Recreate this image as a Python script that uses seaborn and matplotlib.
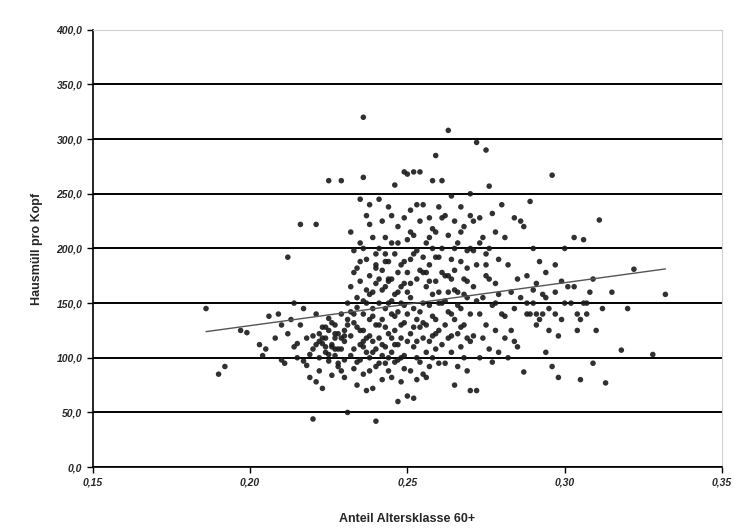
import matplotlib
matplotlib.use("Agg")
import matplotlib.pyplot as plt
import matplotlib.ticker as mticker
import seaborn as sns
import pandas as pd

# Anteil Altersklasse 60+ (x) und Hausmüll pro Kopf (y)
anteil = [
    0.186, 0.190, 0.192, 0.197, 0.199, 0.203, 0.204, 0.205, 0.206, 0.208,
    0.209, 0.210, 0.210, 0.211, 0.212, 0.212, 0.213, 0.214, 0.214, 0.215,
    0.215, 0.216, 0.216, 0.217, 0.217, 0.218, 0.218, 0.219, 0.219, 0.220,
    0.220, 0.220, 0.221, 0.221, 0.221, 0.222, 0.222, 0.222, 0.223, 0.223,
    0.223, 0.224, 0.224, 0.224, 0.225, 0.225, 0.225, 0.225, 0.226, 0.226,
    0.226, 0.227, 0.227, 0.227, 0.227, 0.228, 0.228, 0.228, 0.229, 0.229,
    0.229, 0.229, 0.230, 0.230, 0.230, 0.230, 0.231, 0.231, 0.231, 0.231,
    0.222, 0.224, 0.226, 0.228, 0.230, 0.221, 0.223, 0.225, 0.227, 0.229,
    0.232, 0.232, 0.232, 0.233, 0.233, 0.233, 0.233, 0.234, 0.234, 0.234,
    0.234, 0.235, 0.235, 0.235, 0.235, 0.235, 0.236, 0.236, 0.236, 0.236,
    0.236, 0.237, 0.237, 0.237, 0.237, 0.237, 0.238, 0.238, 0.238, 0.238,
    0.238, 0.239, 0.239, 0.239, 0.239, 0.239, 0.240, 0.240, 0.240, 0.240,
    0.240, 0.232, 0.233, 0.234, 0.235, 0.236, 0.237, 0.238, 0.239, 0.240,
    0.233, 0.235, 0.237, 0.239, 0.234, 0.236, 0.238, 0.240, 0.232, 0.236,
    0.241, 0.241, 0.241, 0.241, 0.241, 0.242, 0.242, 0.242, 0.242, 0.242,
    0.243, 0.243, 0.243, 0.243, 0.243, 0.244, 0.244, 0.244, 0.244, 0.244,
    0.245, 0.245, 0.245, 0.245, 0.245, 0.246, 0.246, 0.246, 0.246, 0.246,
    0.247, 0.247, 0.247, 0.247, 0.247, 0.248, 0.248, 0.248, 0.248, 0.248,
    0.249, 0.249, 0.249, 0.249, 0.249, 0.250, 0.250, 0.250, 0.250, 0.250,
    0.241, 0.242, 0.243, 0.244, 0.245, 0.246, 0.247, 0.248, 0.249, 0.250,
    0.242, 0.244, 0.246, 0.248, 0.250, 0.243, 0.245, 0.247, 0.249, 0.241,
    0.251, 0.251, 0.251, 0.251, 0.251, 0.252, 0.252, 0.252, 0.252, 0.252,
    0.253, 0.253, 0.253, 0.253, 0.253, 0.254, 0.254, 0.254, 0.254, 0.254,
    0.255, 0.255, 0.255, 0.255, 0.255, 0.256, 0.256, 0.256, 0.256, 0.256,
    0.257, 0.257, 0.257, 0.257, 0.257, 0.258, 0.258, 0.258, 0.258, 0.258,
    0.259, 0.259, 0.259, 0.259, 0.259, 0.260, 0.260, 0.260, 0.260, 0.260,
    0.252, 0.254, 0.256, 0.258, 0.260, 0.251, 0.253, 0.255, 0.257, 0.259,
    0.261, 0.261, 0.261, 0.261, 0.262, 0.262, 0.262, 0.262, 0.263, 0.263,
    0.263, 0.263, 0.264, 0.264, 0.264, 0.264, 0.265, 0.265, 0.265, 0.265,
    0.266, 0.266, 0.266, 0.266, 0.267, 0.267, 0.267, 0.267, 0.268, 0.268,
    0.268, 0.268, 0.269, 0.269, 0.269, 0.269, 0.270, 0.270, 0.270, 0.270,
    0.261, 0.263, 0.265, 0.267, 0.269, 0.262, 0.264, 0.266, 0.268, 0.270,
    0.271, 0.271, 0.271, 0.272, 0.272, 0.272, 0.273, 0.273, 0.273, 0.274,
    0.274, 0.274, 0.275, 0.275, 0.275, 0.276, 0.276, 0.276, 0.277, 0.277,
    0.277, 0.278, 0.278, 0.278, 0.279, 0.279, 0.280, 0.280, 0.281, 0.281,
    0.282, 0.282, 0.283, 0.283, 0.284, 0.284, 0.285, 0.285, 0.272, 0.275,
    0.278, 0.281, 0.284, 0.276, 0.279,
    0.286, 0.286, 0.287, 0.287, 0.288, 0.288, 0.289, 0.289, 0.290, 0.290,
    0.291, 0.291, 0.292, 0.292, 0.293, 0.293, 0.294, 0.294, 0.295, 0.295,
    0.296, 0.296, 0.297, 0.297, 0.298, 0.298, 0.299, 0.299, 0.300, 0.300,
    0.288, 0.291, 0.294, 0.297, 0.290,
    0.301, 0.302, 0.303, 0.303, 0.304, 0.305, 0.305, 0.306, 0.306, 0.307,
    0.308, 0.309, 0.309, 0.310, 0.311, 0.312, 0.313, 0.315, 0.318, 0.320,
    0.322, 0.328, 0.332, 0.304, 0.307,
    0.236, 0.238, 0.240, 0.243, 0.245, 0.247, 0.249, 0.251, 0.253, 0.255,
    0.257, 0.259, 0.261, 0.263, 0.265, 0.267, 0.269, 0.271, 0.273, 0.275,
    0.244, 0.252, 0.258, 0.264, 0.270,
]
hausmuell = [
    145, 85, 92, 125, 123, 112, 102, 108, 138, 118,
    140, 130, 98, 95, 192, 122, 135, 150, 110, 113,
    100, 222, 130, 145, 97, 93, 118, 103, 82, 44,
    120, 108, 222, 78, 140, 115, 100, 88, 128, 118,
    72, 118, 105, 128, 262, 136, 97, 125, 112, 110,
    84, 122, 130, 102, 118, 92, 108, 122, 262, 118,
    108, 140, 120, 115, 98, 125, 50, 135, 130, 150,
    122, 110, 132, 95, 82, 112, 113, 103, 108, 88,
    215, 165, 120, 198, 140, 108, 90, 182, 128, 75,
    155, 245, 205, 170, 112, 98, 320, 265, 140, 125,
    85, 230, 190, 150, 118, 70, 240, 175, 135, 100,
    88, 210, 160, 145, 115, 72, 195, 130, 108, 92,
    42, 102, 178, 146, 125, 110, 162, 120, 105, 168,
    132, 188, 105, 138, 96, 152, 158, 185, 142, 115,
    245, 200, 150, 118, 95, 225, 180, 135, 102, 80,
    210, 165, 128, 110, 95, 238, 188, 150, 122, 88,
    205, 172, 140, 105, 82, 258, 195, 158, 125, 96,
    220, 178, 142, 112, 60, 185, 150, 118, 100, 78,
    270, 228, 168, 132, 90, 268, 208, 160, 115, 65,
    130, 162, 145, 172, 118, 138, 98, 130, 148, 140,
    112, 100, 112, 165, 178, 188, 152, 160, 102, 172,
    235, 190, 155, 122, 88, 270, 212, 145, 110, 63,
    198, 172, 135, 100, 80, 270, 225, 180, 128, 96,
    240, 192, 150, 118, 85, 205, 165, 130, 105, 82,
    228, 185, 148, 115, 92, 262, 200, 158, 120, 100,
    285, 215, 170, 135, 108, 238, 192, 150, 125, 95,
    128, 142, 178, 138, 160, 168, 115, 132, 170, 122,
    262, 200, 150, 112, 230, 175, 130, 95, 308, 212,
    160, 118, 248, 190, 140, 105, 225, 180, 135, 75,
    205, 160, 122, 92, 238, 188, 145, 110, 220, 172,
    130, 100, 198, 155, 118, 88, 250, 200, 140, 70,
    178, 142, 162, 128, 170, 152, 120, 148, 158, 115,
    225, 165, 120, 297, 185, 70, 228, 140, 100, 210,
    155, 118, 290, 195, 130, 257, 172, 108, 232, 148,
    96, 215, 168, 125, 190, 105, 240, 140, 210, 118,
    185, 100, 160, 125, 228, 145, 172, 110, 152, 175,
    150, 138, 115, 200, 158,
    225, 155, 220, 87, 175, 140, 243, 140, 200, 150,
    168, 130, 188, 135, 158, 140, 178, 155, 145, 125,
    267, 92, 185, 160, 120, 82, 170, 135, 200, 150,
    150, 140, 105, 140, 162,
    165, 150, 210, 165, 140, 135, 80, 150, 208, 150,
    160, 172, 95, 125, 226, 145, 77, 160, 107, 145,
    181, 103, 158, 125, 140,
    200, 222, 182, 195, 230, 205, 188, 215, 240, 178,
    210, 192, 228, 175, 200, 215, 182, 198, 205, 185,
    170, 195, 218, 172, 230,
]

df = pd.DataFrame({"Anteil": anteil, "Hausmuell": hausmuell})

sns.set_style("white")
plt.rcParams["font.family"] = ["Liberation Sans", "DejaVu Sans"]

fig = plt.figure(figsize=(7.36, 5.32), dpi=100)
ax = fig.add_axes([0.126, 0.122, 0.855, 0.822])

sns.regplot(data=df, x="Anteil", y="Hausmuell", ax=ax, ci=None,
            scatter_kws={"s": 16, "color": "#1a1a1a", "edgecolor": "none", "alpha": 0.9},
            line_kws={"color": "#555555", "lw": 1.0})

ax.set_xlim(0.15, 0.35)
ax.set_ylim(0, 400)
ax.set_yticks(range(0, 401, 50))
ax.set_xticks([0.15, 0.20, 0.25, 0.30, 0.35])
ax.yaxis.set_major_formatter(mticker.FuncFormatter(lambda v, p: f"{v:.1f}".replace(".", ",")))
ax.xaxis.set_major_formatter(mticker.FuncFormatter(lambda v, p: f"{v:.2f}".replace(".", ",")))
ax.grid(axis="y", color="black", lw=1.4)
ax.set_axisbelow(True)

for s in ["top", "right"]:
    ax.spines[s].set_color("#d0d0d0")
for s in ["left", "bottom"]:
    ax.spines[s].set_color("black")
    ax.spines[s].set_linewidth(1.2)

ax.tick_params(axis="both", labelsize=7.5, length=4, width=1, direction="out",
               left=True, bottom=True, color="black")
for lab in ax.get_xticklabels() + ax.get_yticklabels():
    lab.set_fontweight("bold")
    lab.set_fontstyle("italic")

ax.set_xlabel("Anteil Altersklasse 60+", fontsize=9, fontweight="bold", labelpad=18)
ax.set_ylabel("Hausmüll pro Kopf", fontsize=9, fontweight="bold", labelpad=10)

fig.savefig("out.png", dpi=100)
